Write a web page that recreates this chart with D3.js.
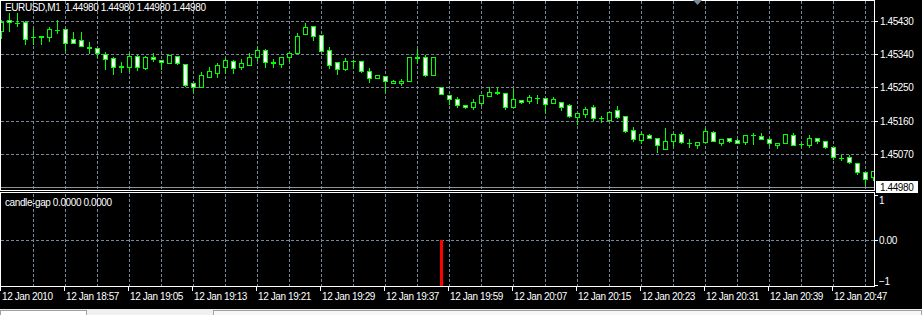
<!DOCTYPE html>
<html lang="en">
<head>
<meta charset="UTF-8">
<title>EURUSD,M1</title>
<style>
    body { margin: 0; background: #000; overflow: hidden; }
    text { font-family: "Liberation Sans", Arial, sans-serif; font-size: 10px; letter-spacing: -0.4px; }
</style>
</head>
<body>

<script src="https://cdn.jsdelivr.net/npm/d3@7"></script>
<script>

// M1 bars (bar 0 = 18:49)
const barOpen = [
    1.45403, 1.45432, 1.45425, 1.45426, 1.45387, 1.45388, 1.45385, 1.45406, 1.45407, 1.45380,
    1.45378, 1.45358, 1.45357, 1.45340, 1.45328, 1.45307, 1.45304, 1.45335, 1.45301, 1.45331,
    1.45323, 1.45315, 1.45335, 1.45312, 1.45261, 1.45250, 1.45279, 1.45290, 1.45306, 1.45321,
    1.45304, 1.45311, 1.45333, 1.45351, 1.45318, 1.45312, 1.45333, 1.45342, 1.45393, 1.45416,
    1.45391, 1.45351, 1.45318, 1.45299, 1.45321, 1.45321, 1.45294, 1.45276, 1.45281, 1.45262,
    1.45261, 1.45268, 1.45331, 1.45333, 1.45282, 1.45250, 1.45229, 1.45218, 1.45202, 1.45198,
    1.45209, 1.45227, 1.45237, 1.45234, 1.45198, 1.45216, 1.45214, 1.45222, 1.45220, 1.45207,
    1.45211, 1.45202, 1.45171, 1.45178, 1.45196, 1.45167, 1.45162, 1.45189, 1.45173, 1.45135,
    1.45108, 1.45121, 1.45113, 1.45084, 1.45106, 1.45123, 1.45101, 1.45095, 1.45103, 1.45129,
    1.45101, 1.45113, 1.45108, 1.45103, 1.45121, 1.45119, 1.45110, 1.45094, 1.45099, 1.45121,
    1.45097, 1.45094, 1.45113, 1.45104, 1.45088, 1.45060, 1.45061, 1.45045, 1.45021, 1.45009
];
const barHigh = [
    1.45432, 1.45450, 1.45450, 1.45428, 1.45407, 1.45389, 1.45412, 1.45432, 1.45407, 1.45400,
    1.45400, 1.45372, 1.45357, 1.45346, 1.45331, 1.45319, 1.45342, 1.45337, 1.45335, 1.45342,
    1.45323, 1.45337, 1.45335, 1.45312, 1.45261, 1.45292, 1.45306, 1.45317, 1.45328, 1.45324,
    1.45326, 1.45342, 1.45358, 1.45353, 1.45326, 1.45331, 1.45344, 1.45398, 1.45424, 1.45416,
    1.45391, 1.45358, 1.45318, 1.45328, 1.45324, 1.45321, 1.45301, 1.45283, 1.45281, 1.45270,
    1.45272, 1.45331, 1.45353, 1.45337, 1.45331, 1.45250, 1.45229, 1.45225, 1.45202, 1.45218,
    1.45229, 1.45250, 1.45250, 1.45234, 1.45246, 1.45216, 1.45229, 1.45229, 1.45220, 1.45225,
    1.45211, 1.45205, 1.45180, 1.45198, 1.45202, 1.45173, 1.45183, 1.45200, 1.45173, 1.45144,
    1.45130, 1.45124, 1.45113, 1.45140, 1.45126, 1.45129, 1.45110, 1.45102, 1.45140, 1.45133,
    1.45110, 1.45113, 1.45111, 1.45121, 1.45126, 1.45126, 1.45113, 1.45101, 1.45124, 1.45126,
    1.45101, 1.45121, 1.45113, 1.45104, 1.45088, 1.45067, 1.45067, 1.45045, 1.45021, 1.45024
];
const barLow = [
    1.45382, 1.45403, 1.45416, 1.45367, 1.45367, 1.45367, 1.45376, 1.45398, 1.45351, 1.45369,
    1.45362, 1.45344, 1.45333, 1.45300, 1.45286, 1.45292, 1.45295, 1.45297, 1.45299, 1.45322,
    1.45300, 1.45315, 1.45313, 1.45254, 1.45238, 1.45250, 1.45279, 1.45279, 1.45288, 1.45290,
    1.45299, 1.45311, 1.45324, 1.45306, 1.45306, 1.45304, 1.45322, 1.45342, 1.45393, 1.45378,
    1.45349, 1.45301, 1.45286, 1.45297, 1.45301, 1.45292, 1.45265, 1.45276, 1.45238, 1.45261,
    1.45256, 1.45268, 1.45315, 1.45281, 1.45282, 1.45231, 1.45204, 1.45198, 1.45195, 1.45192,
    1.45202, 1.45227, 1.45232, 1.45192, 1.45198, 1.45209, 1.45209, 1.45209, 1.45184, 1.45207,
    1.45189, 1.45171, 1.45150, 1.45171, 1.45162, 1.45157, 1.45162, 1.45167, 1.45130, 1.45106,
    1.45101, 1.45113, 1.45074, 1.45084, 1.45092, 1.45099, 1.45090, 1.45087, 1.45103, 1.45104,
    1.45093, 1.45103, 1.45099, 1.45097, 1.45097, 1.45110, 1.45094, 1.45087, 1.45099, 1.45093,
    1.45090, 1.45090, 1.45101, 1.45087, 1.45057, 1.45054, 1.45045, 1.45016, 1.44986, 1.45000
];
const barClose = [
    1.45427, 1.45426, 1.45424, 1.45381, 1.45386, 1.45386, 1.45407, 1.45404, 1.45369, 1.45371,
    1.45362, 1.45357, 1.45342, 1.45326, 1.45306, 1.45306, 1.45335, 1.45304, 1.45331, 1.45326,
    1.45318, 1.45337, 1.45317, 1.45256, 1.45250, 1.45283, 1.45294, 1.45310, 1.45324, 1.45303,
    1.45317, 1.45331, 1.45351, 1.45319, 1.45317, 1.45331, 1.45342, 1.45389, 1.45412, 1.45390,
    1.45349, 1.45310, 1.45300, 1.45321, 1.45322, 1.45295, 1.45276, 1.45283, 1.45268, 1.45266,
    1.45268, 1.45331, 1.45330, 1.45284, 1.45331, 1.45231, 1.45218, 1.45202, 1.45198, 1.45210,
    1.45229, 1.45237, 1.45236, 1.45198, 1.45218, 1.45210, 1.45223, 1.45221, 1.45204, 1.45219,
    1.45198, 1.45173, 1.45180, 1.45191, 1.45168, 1.45166, 1.45183, 1.45169, 1.45133, 1.45110,
    1.45124, 1.45113, 1.45093, 1.45106, 1.45123, 1.45102, 1.45100, 1.45102, 1.45131, 1.45104,
    1.45110, 1.45106, 1.45101, 1.45121, 1.45120, 1.45110, 1.45101, 1.45101, 1.45124, 1.45093,
    1.45096, 1.45113, 1.45106, 1.45090, 1.45061, 1.45059, 1.45049, 1.45020, 1.45002, 1.45024
];

const labelBars = [0, 8, 16, 24, 32, 40, 48, 56, 64, 72, 80, 88, 96, 104];
const timeLabels = ['12 Jan 2010', '12 Jan 18:57', '12 Jan 19:05', '12 Jan 19:13', '12 Jan 19:21',
    '12 Jan 19:29', '12 Jan 19:37', '12 Jan 19:59', '12 Jan 20:07', '12 Jan 20:15',
    '12 Jan 20:23', '12 Jan 20:31', '12 Jan 20:39', '12 Jan 20:47'];
const priceTicks = [1.45430, 1.45340, 1.45250, 1.45160, 1.45070];
const lastPrice = 1.44980;
const gapBars = [55];
const gapValues = [-1];
const indTicks = [1, 0, -1];

const width = 922, height = 315;
const plotRight = 874;
const grid = '#778899', green = '#00ff00';

let svg = d3.select('body')
    .append('svg')
    .attr('width', width)
    .attr('height', height);

svg.append('rect').attr('width', width).attr('height', height).attr('fill', '#000');

let x = d3.scaleLinear().domain([0, barOpen.length - 1]).range([1, 873]);
let y = d3.scaleLinear().domain([lastPrice, 1.45430]).range([187.3, 20.7]);
let yInd = d3.scaleLinear().domain([-1, 1]).range([286, 194]);
const px = v => Math.round(v);

let defs = svg.append('defs');
defs.append('clipPath').attr('id', 'mainclip')
    .append('rect').attr('x', 1).attr('y', 1).attr('width', plotRight - 1).attr('height', 189);
defs.append('clipPath').attr('id', 'indclip')
    .append('rect').attr('x', 1).attr('y', 193).attr('width', plotRight - 1).attr('height', 94);

// grid
let gridBars = d3.range(4, barOpen.length, 4);
svg.selectAll('.vgrid')
    .data(gridBars)
    .enter()
    .append('line')
    .attr('x1', d => px(x(d)) + 0.5).attr('x2', d => px(x(d)) + 0.5)
    .attr('y1', 1).attr('y2', 190)
    .attr('stroke', grid).attr('stroke-dasharray', '3,2');
svg.selectAll('.vgrid2')
    .data(gridBars)
    .enter()
    .append('line')
    .attr('x1', d => px(x(d)) + 0.5).attr('x2', d => px(x(d)) + 0.5)
    .attr('y1', 194).attr('y2', 286)
    .attr('stroke', grid).attr('stroke-dasharray', '3,2');
svg.selectAll('.hgrid')
    .data(priceTicks)
    .enter()
    .append('line')
    .attr('x1', 1).attr('x2', plotRight)
    .attr('y1', d => px(y(d)) + 0.5).attr('y2', d => px(y(d)) + 0.5)
    .attr('stroke', grid).attr('stroke-dasharray', '3,2');
svg.append('line')
    .attr('x1', 1).attr('x2', plotRight)
    .attr('y1', px(yInd(0)) + 0.5).attr('y2', px(yInd(0)) + 0.5)
    .attr('stroke', grid).attr('stroke-dasharray', '3,2');

// bid line
svg.append('line')
    .attr('x1', 1).attr('x2', plotRight)
    .attr('y1', px(y(lastPrice)) + 0.5).attr('y2', px(y(lastPrice)) + 0.5)
    .attr('stroke', '#8c949c');

// candles
let bars = barOpen.map((o, i) => ({i: i, o: o, h: barHigh[i], l: barLow[i], c: barClose[i]}));
let candles = svg.append('g').attr('clip-path', 'url(#mainclip)');

candles.selectAll('.wick')
    .data(bars)
    .enter()
    .append('line')
    .attr('x1', d => px(x(d.i)) + 0.5).attr('x2', d => px(x(d.i)) + 0.5)
    .attr('y1', d => px(y(d.h))).attr('y2', d => px(y(d.l)) + 1)
    .attr('stroke', green);

candles.selectAll('.body')
    .data(bars)
    .enter()
    .append('rect')
    .attr('x', d => px(x(d.i)) - 1.5)
    .attr('y', d => px(y(Math.max(d.o, d.c))) + 0.5)
    .attr('width', 4)
    .attr('height', d => Math.max(0.01, px(y(Math.min(d.o, d.c))) - px(y(Math.max(d.o, d.c)))))
    .attr('fill', d => d.c < d.o ? '#fff' : '#000')
    .attr('stroke', green);

// indicator histogram
svg.append('g').attr('clip-path', 'url(#indclip)')
    .selectAll('.gap')
    .data(gapBars)
    .enter()
    .append('rect')
    .attr('x', d => px(x(d)) - 1)
    .attr('width', 3)
    .attr('y', (d, i) => Math.min(yInd(0), yInd(gapValues[i])))
    .attr('height', (d, i) => Math.abs(yInd(gapValues[i]) - yInd(0)) + 2)
    .attr('fill', '#ff0000');

// frames
svg.append('rect').attr('x', 0.5).attr('y', 0.5).attr('width', plotRight).attr('height', 190)
    .attr('fill', 'none').attr('stroke', '#fff');
svg.append('rect').attr('x', 0.5).attr('y', 192.5).attr('width', plotRight).attr('height', 94)
    .attr('fill', 'none').attr('stroke', '#fff');

// chart shift marker
svg.append('path').attr('d', 'M693,0 L702,0 L697.5,5 Z').attr('fill', grid);

// price axis
svg.selectAll('.ptick')
    .data(priceTicks)
    .enter()
    .append('line')
    .attr('x1', plotRight + 1).attr('x2', plotRight + 4)
    .attr('y1', d => px(y(d)) + 0.5).attr('y2', d => px(y(d)) + 0.5)
    .attr('stroke', '#fff');
svg.selectAll('.plabel')
    .data(priceTicks)
    .enter()
    .append('text')
    .attr('x', 880).attr('y', d => y(d) + 4)
    .attr('fill', '#fff')
    .text(d => d.toFixed(5));

svg.append('rect')
    .attr('x', 876).attr('y', px(y(lastPrice)) - 6).attr('width', 42).attr('height', 12)
    .attr('fill', '#fff');
svg.append('text')
    .attr('x', 880).attr('y', y(lastPrice) + 4)
    .attr('fill', '#000')
    .text(lastPrice.toFixed(5));

// indicator axis
svg.selectAll('.itick')
    .data(indTicks)
    .enter()
    .append('line')
    .attr('x1', plotRight + 1).attr('x2', plotRight + 4)
    .attr('y1', d => Math.min(Math.max(px(yInd(d)), 195), 285) + 0.5)
    .attr('y2', d => Math.min(Math.max(px(yInd(d)), 195), 285) + 0.5)
    .attr('stroke', '#fff');
svg.selectAll('.ilabel')
    .data(indTicks)
    .enter()
    .append('text')
    .attr('x', 879)
    .attr('y', d => Math.min(Math.max(yInd(d), 200), 281) + 4)
    .attr('fill', '#fff')
    .text(d => d === 0 ? '0.00' : d3.format('d')(d));

// time axis
svg.selectAll('.ttick')
    .data(labelBars)
    .enter()
    .append('line')
    .attr('x1', d => px(x(d)) - 0.5).attr('x2', d => px(x(d)) - 0.5)
    .attr('y1', 287).attr('y2', 291)
    .attr('stroke', '#fff');
svg.selectAll('.tlabel')
    .data(labelBars)
    .enter()
    .append('text')
    .attr('x', d => px(x(d)) + 1)
    .attr('y', 300)
    .attr('fill', '#fff')
    .text((d, i) => timeLabels[i]);

// titles
svg.append('text').attr('x', 5).attr('y', 11).attr('fill', '#fff')
    .text('EURUSD,M1  ' + [lastPrice, lastPrice, lastPrice, lastPrice].map(v => v.toFixed(5)).join(' '))
    .style('white-space', 'pre');
svg.append('text').attr('x', 5).attr('y', 206).attr('fill', '#fff')
    .text('candle-gap 0.0000 0.0000');

// bottom tab strip
svg.append('rect').attr('x', 0).attr('y', 309).attr('width', width).attr('height', 6).attr('fill', '#f0f0f0');
svg.append('rect').attr('x', 0.5).attr('y', 310.5).attr('width', 86).attr('height', 6)
    .attr('fill', '#fff').attr('stroke', '#a0a0a0');
svg.append('rect').attr('x', 213.5).attr('y', 310.5).attr('width', 708).attr('height', 6)
    .attr('fill', '#f8f8f8').attr('stroke', '#a0a0a0');

</script>

</body>
</html>
